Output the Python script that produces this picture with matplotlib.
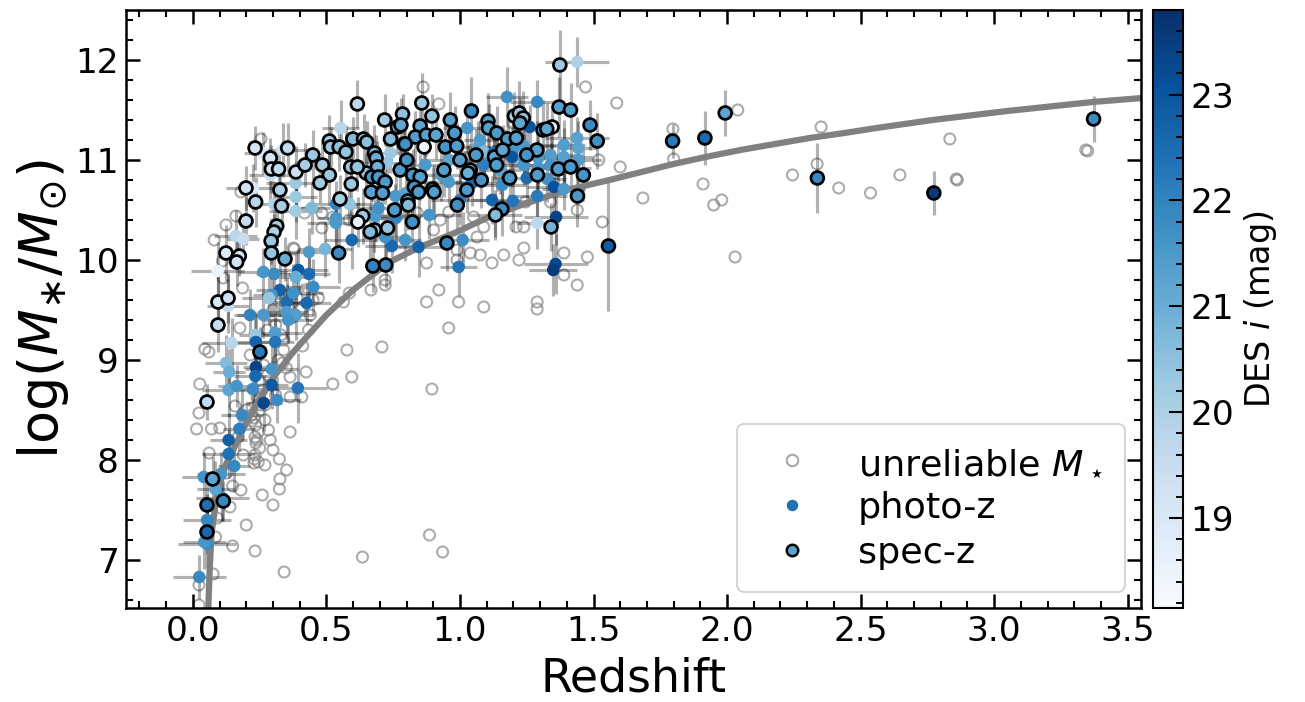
import matplotlib
matplotlib.use("Agg")
import matplotlib.pyplot as plt
from matplotlib.lines import Line2D
from matplotlib.ticker import MultipleLocator

# spec-z galaxies: redshift, log stellar mass, DES i magnitude, mass error
spec_z = [
    0.233, 0.355, 0.290, 0.294, 0.321, 0.386, 0.199, 0.326, 0.235, 0.332,
    0.199, 0.314, 0.304, 0.293, 0.294, 0.345, 0.124, 0.174, 0.164, 0.094,
    0.132, 0.094, 0.616, 0.857, 0.895, 0.718, 0.785, 0.766, 0.964, 0.851,
    0.833, 0.874, 0.910, 0.980, 0.866, 0.945, 0.988, 0.791, 0.740, 0.511,
    0.516, 0.548, 0.573, 0.599, 0.639, 0.651, 0.680, 0.686, 0.691, 0.649,
    0.670, 0.695, 0.720, 0.668, 0.710, 0.591, 0.616, 0.593, 0.485, 0.511,
    0.476, 0.449, 0.420, 0.779, 0.795, 0.776, 0.801, 0.823, 0.851, 0.829,
    0.845, 0.898, 0.903, 0.551, 0.805, 0.806, 0.755, 0.822, 0.636, 0.618,
    0.680, 0.664, 0.729, 0.546, 0.674, 0.722, 0.951, 0.990, 1.374, 1.371,
    1.414, 1.487, 1.514, 1.345, 1.311, 1.325, 1.204, 1.222, 1.237, 1.225,
    1.288, 1.368, 1.414, 1.462, 1.440, 1.341, 1.157, 1.133, 1.186, 1.129,
    1.137, 1.043, 1.105, 1.107, 1.138, 1.178, 1.211, 1.026, 1.038, 1.030,
    1.556, 1.796, 1.917, 1.993, 2.338, 2.774, 3.372, 0.053, 0.251, 0.074,
    0.114, 0.053, 0.053, 1.060, 1.080, 1.000, 0.940, 1.160, 1.250, 1.290,
]
spec_logm = [
    11.12, 11.12, 11.02, 10.91, 10.91, 10.88, 10.72, 10.70, 10.58, 10.54,
    10.39, 10.34, 10.28, 10.19, 10.07, 10.01, 10.07, 10.04, 9.98, 9.58,
    9.62, 9.35, 11.56, 11.57, 11.44, 11.40, 11.46, 11.33, 11.40, 11.34,
    11.23, 11.25, 11.25, 11.27, 11.13, 11.13, 11.14, 11.16, 11.21, 11.19,
    11.13, 11.13, 11.08, 11.21, 11.21, 11.18, 11.07, 11.02, 10.93, 10.87,
    10.83, 10.83, 10.78, 10.68, 10.67, 10.93, 10.93, 10.76, 10.95, 10.85,
    10.77, 11.05, 10.95, 11.35, 11.16, 10.90, 11.00, 10.85, 10.83, 10.73,
    10.68, 10.71, 10.68, 10.61, 10.59, 10.55, 10.50, 10.38, 10.44, 10.38,
    10.30, 10.28, 10.32, 10.07, 9.94, 9.95, 10.17, 10.55, 11.95, 11.53,
    11.50, 11.35, 11.19, 11.33, 11.30, 11.31, 11.44, 11.47, 11.42, 11.37,
    11.10, 10.91, 10.93, 10.85, 10.64, 10.33, 10.51, 10.45, 10.82, 11.03,
    10.95, 11.49, 11.39, 11.32, 11.27, 11.21, 11.22, 10.70, 10.90, 10.87,
    10.14, 11.19, 11.22, 11.47, 10.82, 10.67, 11.41, 8.58, 9.08, 7.81,
    7.59, 7.55, 7.28, 11.05, 10.80, 11.00, 10.90, 11.10, 11.05, 10.85,
]
spec_mag = [
    19.2, 19.6, 19.1, 19.3, 19.7, 19.4, 19.3, 20.0, 19.8, 20.1,
    19.6, 20.2, 20.0, 20.3, 20.4, 21.0, 18.9, 19.1, 19.2, 19.0,
    19.3, 19.5, 19.7, 20.3, 20.4, 20.2, 20.5, 20.4, 21.3, 21.2,
    21.4, 21.3, 21.2, 21.5, 18.5, 21.6, 21.4, 21.3, 20.6, 20.2,
    20.3, 20.5, 20.4, 20.6, 20.5, 20.5, 20.8, 21.0, 20.9, 20.5,
    21.4, 21.5, 21.5, 21.3, 21.4, 20.3, 20.4, 20.3, 20.2, 20.3,
    20.2, 20.3, 20.1, 21.2, 21.7, 21.4, 21.6, 21.5, 21.3, 21.6,
    21.4, 21.5, 21.4, 20.1, 20.8, 20.6, 21.5, 21.7, 20.3, 18.6,
    20.3, 20.6, 20.4, 21.8, 22.0, 21.8, 21.9, 21.7, 20.3, 21.3,
    21.4, 21.8, 21.7, 18.6, 21.4, 21.2, 19.9, 20.3, 20.5, 21.2,
    21.3, 21.4, 21.5, 21.6, 21.5, 20.9, 21.8, 20.6, 21.5, 21.2,
    21.4, 21.8, 21.4, 21.3, 21.5, 21.4, 21.3, 21.5, 20.4, 21.0,
    22.8, 22.2, 22.5, 21.2, 21.9, 23.6, 21.8, 19.6, 22.2, 21.2,
    21.9, 22.4, 22.6, 21.5, 21.6, 21.3, 21.4, 21.2, 21.6, 21.4,
]
spec_merr = [
    0.22, 0.25, 0.20, 0.24, 0.18, 0.26, 0.22, 0.19, 0.25, 0.21,
    0.24, 0.20, 0.18, 0.23, 0.26, 0.22, 0.28, 0.20, 0.24, 0.30,
    0.25, 0.27, 0.24, 0.30, 0.22, 0.26, 0.20, 0.25, 0.28, 0.22,
    0.26, 0.21, 0.24, 0.27, 0.20, 0.25, 0.23, 0.28, 0.22, 0.26,
    0.20, 0.24, 0.27, 0.22, 0.25, 0.21, 0.28, 0.23, 0.26, 0.20,
    0.24, 0.29, 0.22, 0.25, 0.27, 0.21, 0.24, 0.26, 0.23, 0.28,
    0.20, 0.25, 0.22, 0.27, 0.24, 0.30, 0.21, 0.26, 0.23, 0.28,
    0.25, 0.22, 0.27, 0.24, 0.29, 0.21, 0.26, 0.23, 0.28, 0.25,
    0.22, 0.27, 0.24, 0.30, 0.26, 0.23, 0.28, 0.25, 0.35, 0.30,
    0.27, 0.25, 0.28, 0.22, 0.30, 0.26, 0.24, 0.32, 0.27, 0.25,
    0.29, 0.23, 0.28, 0.26, 0.31, 0.24, 0.27, 0.25, 0.30, 0.22,
    0.26, 0.34, 0.28, 0.24, 0.27, 0.25, 0.30, 0.23, 0.26, 0.28,
    0.65, 0.17, 0.27, 0.23, 0.35, 0.22, 0.23, 0.18, 0.25, 0.22,
    0.20, 0.24, 0.22, 0.26, 0.28, 0.24, 0.27, 0.25, 0.29, 0.23,
]

# photo-z galaxies
photo_z = [
    1.439, 1.176, 1.289, 0.553, 1.027, 1.075, 1.069, 1.089, 1.126, 1.170,
    1.200, 1.239, 1.261, 1.195, 1.239, 1.239, 1.293, 1.293, 1.339, 1.389,
    1.439, 1.443, 1.443, 1.389, 1.339, 1.389, 1.089, 1.158, 1.250, 1.327,
    1.352, 1.389, 1.289, 1.198, 1.120, 1.133, 1.360, 1.289, 1.045, 1.000,
    0.995, 0.958, 0.930, 0.885, 0.845, 0.795, 0.745, 0.720, 0.683, 0.695,
    0.759, 0.798, 0.726, 0.739, 0.595, 0.536, 0.536, 0.536, 0.586, 0.495,
    0.435, 0.445, 0.385, 0.385, 0.385, 0.305, 0.336, 0.261, 0.290, 0.225,
    0.161, 0.189, 0.093, 0.264, 0.305, 0.395, 0.435, 0.451, 0.385, 0.326,
    0.295, 0.285, 0.351, 0.376, 0.426, 0.214, 0.264, 0.351, 0.385, 0.357,
    0.132, 0.233, 0.308, 0.308, 0.236, 0.145, 0.124, 0.136, 0.134, 0.164,
    0.224, 0.236, 0.234, 0.295, 0.295, 0.265, 0.315, 0.393, 0.184, 0.174,
    0.134, 0.134, 0.155, 0.105, 0.041, 0.084, 0.111, 0.053, 0.053, 0.043,
    0.024, 1.358, 1.349, 1.010, 1.150, 0.960, 0.870, 0.760,
]
photo_logm = [
    11.98, 11.63, 11.58, 11.32, 11.32, 11.20, 11.13, 11.08, 11.07, 11.10,
    11.12, 11.14, 11.33, 11.03, 11.02, 10.95, 11.02, 10.92, 11.05, 11.15,
    11.22, 11.12, 11.00, 11.03, 10.95, 10.92, 10.95, 10.75, 10.82, 10.81,
    10.73, 10.71, 10.64, 10.59, 10.60, 10.45, 10.43, 10.37, 10.77, 10.60,
    9.93, 10.78, 10.85, 10.45, 10.13, 10.20, 10.14, 10.23, 10.44, 10.52,
    10.64, 10.67, 10.97, 11.07, 10.20, 10.56, 10.42, 10.37, 10.56, 10.11,
    10.08, 10.52, 10.77, 10.63, 10.49, 10.56, 11.10, 11.07, 10.85, 10.72,
    10.24, 10.21, 9.89, 9.88, 9.86, 9.90, 9.86, 9.73, 9.83, 9.70,
    9.65, 9.62, 9.58, 9.67, 9.57, 9.45, 9.45, 9.48, 9.45, 9.40,
    9.54, 9.25, 9.27, 9.18, 9.18, 9.17, 8.97, 8.88, 8.70, 8.74,
    8.71, 8.93, 8.84, 8.91, 8.75, 8.57, 8.60, 8.72, 8.45, 8.31,
    8.20, 8.06, 7.94, 7.86, 7.83, 7.71, 7.62, 7.40, 7.16, 7.18,
    6.83, 9.96, 9.90, 10.20, 10.90, 11.00, 10.95, 10.42,
]
photo_mag = [
    20.0, 21.7, 21.9, 19.8, 21.6, 21.5, 21.4, 20.6, 22.4, 21.6,
    21.6, 21.5, 23.0, 23.0, 21.5, 21.6, 21.5, 21.6, 21.4, 21.4,
    21.3, 21.2, 21.4, 21.3, 21.6, 21.5, 22.1, 21.8, 22.5, 21.7,
    23.1, 21.5, 22.2, 22.3, 22.7, 19.9, 23.4, 19.7, 22.6, 22.1,
    22.3, 21.5, 21.4, 21.6, 22.7, 21.6, 22.6, 21.7, 21.5, 21.7,
    21.5, 21.3, 20.4, 20.3, 22.6, 22.0, 21.6, 21.5, 20.4, 20.8,
    21.5, 20.7, 20.3, 20.3, 20.2, 20.0, 19.3, 19.0, 19.4, 19.0,
    19.8, 19.5, 18.5, 21.6, 21.8, 22.9, 22.5, 21.8, 21.0, 22.7,
    21.6, 20.4, 22.5, 21.7, 22.6, 22.0, 21.5, 21.5, 21.4, 21.6,
    19.6, 20.3, 21.4, 22.3, 22.7, 19.8, 20.6, 21.0, 21.2, 21.6,
    21.8, 23.4, 22.6, 21.6, 22.9, 23.3, 21.8, 22.3, 21.9, 22.1,
    22.8, 22.4, 21.9, 21.6, 21.7, 21.2, 21.4, 21.9, 21.8, 21.6,
    21.9, 23.3, 23.6, 21.8, 21.3, 21.2, 21.5, 22.0,
]
photo_zerr = [
    0.12, 0.08, 0.10, 0.07, 0.09, 0.06, 0.10, 0.08, 0.11, 0.07,
    0.09, 0.12, 0.08, 0.10, 0.07, 0.11, 0.09, 0.06, 0.10, 0.08,
    0.12, 0.07, 0.09, 0.11, 0.08, 0.10, 0.06, 0.09, 0.12, 0.07,
    0.10, 0.08, 0.11, 0.09, 0.07, 0.10, 0.12, 0.08, 0.09, 0.11,
    0.07, 0.10, 0.08, 0.12, 0.09, 0.06, 0.10, 0.08, 0.11, 0.07,
    0.09, 0.12, 0.08, 0.06, 0.10, 0.09, 0.07, 0.11, 0.08, 0.10,
    0.09, 0.07, 0.11, 0.08, 0.10, 0.06, 0.09, 0.07, 0.08, 0.10,
    0.08, 0.06, 0.10, 0.09, 0.07, 0.11, 0.08, 0.10, 0.06, 0.09,
    0.07, 0.10, 0.08, 0.11, 0.09, 0.06, 0.10, 0.08, 0.07, 0.09,
    0.08, 0.06, 0.10, 0.07, 0.09, 0.11, 0.08, 0.06, 0.10, 0.07,
    0.09, 0.05, 0.08, 0.10, 0.06, 0.07, 0.09, 0.11, 0.08, 0.06,
    0.07, 0.10, 0.06, 0.09, 0.08, 0.07, 0.10, 0.09, 0.11, 0.08,
    0.10, 0.12, 0.09, 0.10, 0.08, 0.11, 0.07, 0.09,
]
photo_merr = [
    0.25, 0.30, 0.22, 0.28, 0.24, 0.20, 0.26, 0.23, 0.29, 0.21,
    0.25, 0.27, 0.22, 0.30, 0.24, 0.20, 0.26, 0.28, 0.23, 0.25,
    0.21, 0.27, 0.24, 0.29, 0.22, 0.26, 0.20, 0.25, 0.28, 0.23,
    0.27, 0.21, 0.25, 0.30, 0.24, 0.22, 0.28, 0.26, 0.23, 0.25,
    0.29, 0.22, 0.26, 0.24, 0.30, 0.21, 0.27, 0.23, 0.25, 0.28,
    0.22, 0.26, 0.24, 0.20, 0.29, 0.23, 0.27, 0.25, 0.21, 0.28,
    0.24, 0.26, 0.22, 0.25, 0.28, 0.23, 0.27, 0.21, 0.25, 0.24,
    0.26, 0.22, 0.29, 0.24, 0.27, 0.21, 0.25, 0.28, 0.23, 0.26,
    0.22, 0.27, 0.24, 0.29, 0.21, 0.26, 0.23, 0.28, 0.25, 0.22,
    0.27, 0.24, 0.30, 0.22, 0.26, 0.25, 0.28, 0.23, 0.27, 0.21,
    0.25, 0.29, 0.22, 0.26, 0.24, 0.28, 0.23, 0.35, 0.25, 0.22,
    0.27, 0.24, 0.26, 0.22, 0.25, 0.28, 0.23, 0.26, 0.24, 0.27,
    0.22, 0.30, 0.26, 0.28, 0.24, 0.27, 0.23, 0.25,
]

# galaxies with unreliable stellar mass
unrel_z = [
    1.587, 1.600, 1.685, 1.797, 1.800, 1.910, 1.950, 1.980, 2.040, 2.030,
    2.245, 2.352, 2.337, 2.418, 2.537, 2.647, 2.834, 2.858, 2.862, 3.343,
    3.350,
    1.470, 0.862, 0.921, 1.520, 1.533, 1.439, 1.339, 1.245, 1.239, 1.210,
    1.239, 1.221, 1.164, 1.120, 1.076, 1.039, 0.989, 0.989, 0.875, 1.064,
    1.051, 0.958, 0.926, 0.901, 1.089, 1.389, 1.439, 1.389, 1.477, 1.289,
    1.289, 1.089, 0.995, 0.921, 0.875, 0.958, 0.720, 0.720, 0.586, 0.667,
    0.564, 0.433, 0.708, 0.577, 0.483, 0.376, 0.418, 0.483, 0.525, 0.613,
    0.585, 0.255, 0.180, 0.161, 0.124, 0.080, 0.111, 0.114, 0.186, 0.176,
    0.780, 0.840, 0.380,
    0.023, 0.023, 0.076, 0.149, 0.233, 0.342, 0.085, 0.091, 0.139, 0.149,
    0.126, 0.105, 0.229, 0.233, 0.324, 0.351, 0.324, 0.061, 0.189, 0.236,
    0.233, 0.245, 0.364, 0.220, 0.220, 0.170, 0.014, 0.023, 0.101, 0.070,
    0.158, 0.201, 0.026, 0.060, 0.045, 0.336, 0.364, 0.364, 0.424, 0.408,
    0.411, 0.524, 0.595, 0.895, 0.886, 0.935, 0.635, 0.326, 0.230, 0.215,
    0.265, 0.280, 0.240, 0.250, 0.270, 0.283, 0.290, 0.300, 0.270, 0.260,
    0.300, 0.200, 0.180, 0.310, 0.330, 0.340, 0.370, 0.222, 0.235, 0.240,
    0.250, 0.245, 0.230,
    0.300, 0.330, 0.360, 0.390, 0.420, 0.450, 0.280, 0.320, 0.350, 0.290,
    0.310, 0.270, 0.400, 0.440, 0.470, 0.260, 0.250, 0.340,
]
unrel_logm = [
    11.57, 10.93, 10.62, 11.31, 11.01, 10.76, 10.55, 10.60, 11.50, 10.03,
    10.85, 11.33, 10.96, 10.72, 10.67, 10.85, 11.21, 10.81, 10.80, 11.10,
    11.09,
    11.73, 11.73, 11.56, 11.00, 10.38, 10.50, 10.58, 10.58, 10.33, 10.33,
    10.12, 10.00, 10.05, 9.97, 10.05, 10.07, 10.10, 10.00, 9.97, 10.23,
    10.43, 10.48, 10.40, 10.30, 10.33, 9.85, 9.75, 10.07, 10.03, 9.58,
    9.51, 9.53, 9.58, 9.70, 9.58, 9.32, 9.80, 9.75, 9.67, 9.70,
    9.58, 9.30, 9.13, 9.10, 10.32, 10.12, 10.47, 10.47, 10.43, 10.47,
    10.40, 11.21, 10.68, 10.44, 10.35, 10.20, 9.99, 9.82, 9.72, 9.32,
    10.52, 10.47, 10.11,
    6.55, 6.75, 6.86, 7.14, 7.09, 6.88, 7.23, 7.42, 7.53, 7.74,
    7.87, 7.62, 7.97, 8.05, 8.01, 7.90, 7.71, 8.07, 8.05, 8.17,
    8.23, 8.28, 8.28, 8.45, 8.39, 8.23, 8.31, 8.47, 8.32, 8.31,
    8.54, 8.50, 8.76, 9.08, 9.11, 8.97, 8.83, 8.63, 8.88, 8.63,
    9.14, 8.76, 8.83, 8.71, 7.25, 7.08, 7.03, 7.81, 8.01, 9.05,
    8.95, 8.85, 8.63, 8.55, 8.40, 8.30, 8.20, 8.10, 7.95, 7.65,
    7.55, 7.35, 7.70, 9.35, 9.25, 9.10, 9.42, 8.52, 8.35, 8.20,
    8.12, 7.98, 8.42,
    9.50, 9.60, 9.52, 9.62, 9.70, 9.60, 9.30, 9.00, 8.92, 8.75,
    8.65, 8.55, 9.50, 9.45, 9.62, 8.70, 8.62, 9.20,
]

# mass completeness limit curve
curve_z = [0.057, 0.063, 0.070, 0.085, 0.101, 0.125, 0.151, 0.19, 0.226, 0.27,
           0.314, 0.37, 0.426, 0.50, 0.60, 0.73, 0.85, 0.98, 1.10, 1.23,
           1.40, 1.56, 1.68, 1.80, 1.92, 2.05, 2.18, 2.31, 2.44, 2.56,
           2.77, 3.05, 3.37, 3.60]
curve_logm = [6.45, 6.90, 7.27, 7.55, 7.77, 7.96, 8.10, 8.32, 8.50, 8.70,
              8.87, 9.06, 9.23, 9.45, 9.70, 9.97, 10.13, 10.27, 10.42, 10.55,
              10.70, 10.80, 10.88, 10.96, 11.03, 11.10, 11.16, 11.22, 11.27, 11.32,
              11.40, 11.49, 11.58, 11.63]

mag_min, mag_max = 18.15, 23.8
cbar_ticks = [19, 20, 21, 22, 23]

fig = plt.figure(figsize=(8.7, 4.68), dpi=150)
ax = fig.add_axes([0.0966, 0.1339, 0.7778, 0.8519])
cax = fig.add_axes([0.8835, 0.1339, 0.023, 0.8519])

cmap = plt.get_cmap('Blues')
norm = plt.Normalize(mag_min, mag_max)

ax.scatter(unrel_z, unrel_logm, s=28, facecolors='none', edgecolors='gray',
           linewidths=1.0, alpha=0.65, zorder=1)
ax.errorbar(photo_z, photo_logm, xerr=photo_zerr, yerr=photo_merr, fmt='none',
            ecolor='k', alpha=0.3, elinewidth=1.5, zorder=2)
ax.errorbar(spec_z, spec_logm, yerr=spec_merr, fmt='none',
            ecolor='k', alpha=0.3, elinewidth=1.5, zorder=2)
ax.plot(curve_z, curve_logm, color='gray', lw=3, zorder=2.5)
ax.scatter(photo_z, photo_logm, c=photo_mag, cmap=cmap, norm=norm, s=36,
           edgecolors='none', zorder=3)
sc = ax.scatter(spec_z, spec_logm, c=spec_mag, cmap=cmap, norm=norm, s=38,
                edgecolors='k', linewidths=1.3, zorder=4)

ax.set_xlim(-0.25, 3.55)
ax.set_ylim(6.52, 12.5)
ax.xaxis.set_major_locator(MultipleLocator(0.5))
ax.xaxis.set_minor_locator(MultipleLocator(0.1))
ax.yaxis.set_major_locator(MultipleLocator(1))
ax.yaxis.set_minor_locator(MultipleLocator(0.2))
ax.tick_params(which='both', direction='in', top=True, right=True, labelsize=16.5)
ax.tick_params(which='major', length=6.5, width=1.2)
ax.tick_params(which='minor', length=3.3, width=1.0)
for sp in ax.spines.values():
    sp.set_linewidth(1.2)
ax.set_xlabel('Redshift', fontsize=22)
ax.set_ylabel(r'log($M_{\ast}/M_{\odot}$)', fontsize=26, labelpad=2)

handles = [
    Line2D([], [], ls='none', marker='o', ms=5.5, mfc='none', mec='gray', mew=1.0, alpha=0.7),
    Line2D([], [], ls='none', marker='o', ms=5.5, mfc=cmap(0.75), mec='none'),
    Line2D([], [], ls='none', marker='o', ms=5.5, mfc=cmap(0.55), mec='k', mew=1.2),
]
labels = [r'unreliable $M_\star$', 'photo-z', 'spec-z']
ax.legend(handles, labels, loc='lower right', fontsize=17.5, handlelength=1.8,
          handletextpad=0.9, labelspacing=0.3, borderpad=0.6, borderaxespad=0.45)

cb = fig.colorbar(sc, cax=cax)
cb.set_ticks(cbar_ticks)
cb.ax.yaxis.set_minor_locator(MultipleLocator(0.2))
cb.ax.tick_params(which='both', direction='in', labelsize=16.5)
cb.ax.tick_params(which='major', length=6.5, width=1.0)
cb.ax.tick_params(which='minor', length=3.3, width=0.9)
cb.outline.set_linewidth(1.0)
cb.set_label('DES $i$ (mag)', fontsize=16)

fig.savefig('out.png', dpi=150)
